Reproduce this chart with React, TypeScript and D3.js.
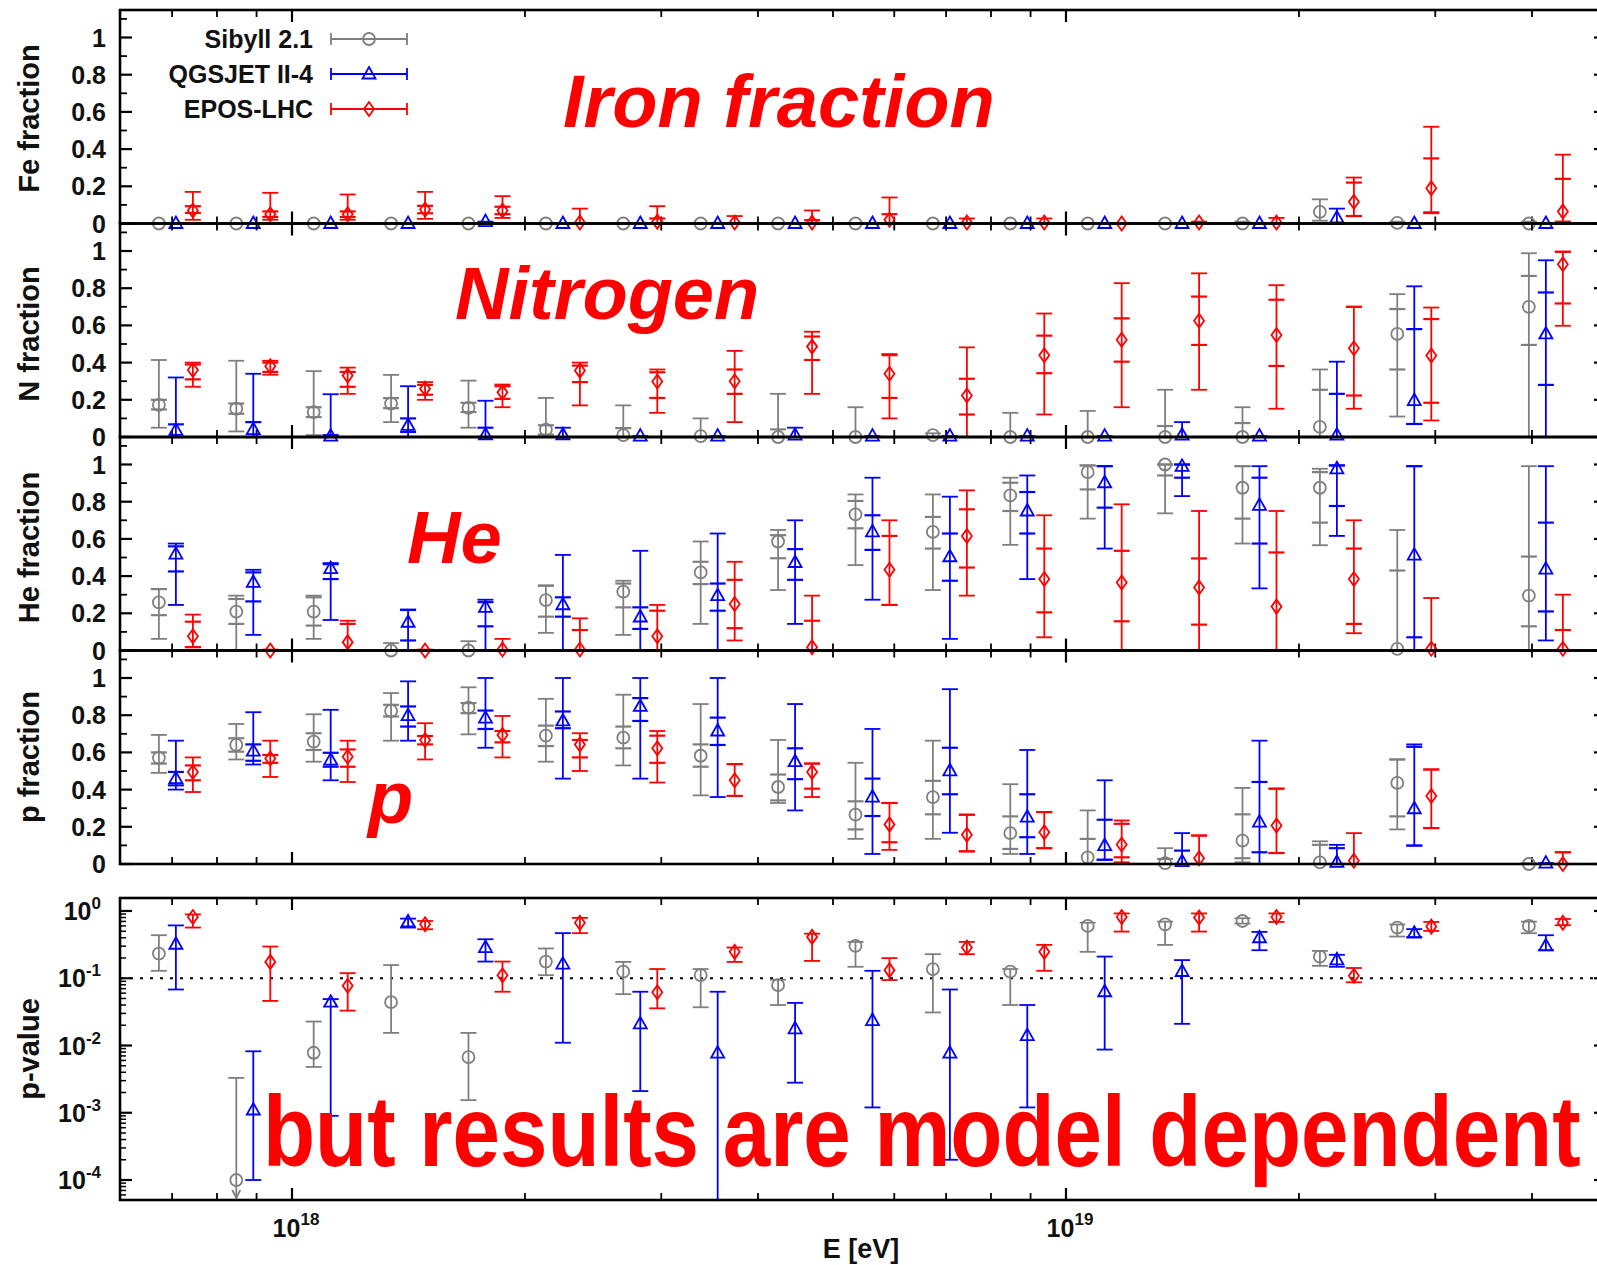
import React from 'react';
import * as d3 from 'd3';

// ---------------- data ----------------
const binLog10E = [17.85, 17.95, 18.05, 18.15, 18.25, 18.35, 18.45, 18.55, 18.65, 18.75, 18.85, 18.95, 19.05, 19.15, 19.25, 19.35, 19.45, 19.62];
const modelNames = ['Sibyll 2.1', 'QGSJET II-4', 'EPOS-LHC'];
const modelColors = ['#7f7f7f', '#0000ff', '#ff0000'];
const fracTicks = [0, 0.2, 0.4, 0.6, 0.8, 1];
const fracTickLabels = ['0', '0.2', '0.4', '0.6', '0.8', '1'];
const fracMinorTicks = [0.1, 0.3, 0.5, 0.7, 0.9, 1.1];
const pvTickExps = [0, -1, -2, -3, -4];
const xTickExps = [18, 19];
const panelTitles = ['Fe fraction', 'N fraction', 'He fraction', 'p fraction'];

// each entry: [value, outerLo, outerHi, innerLo?, innerHi?]
const feSib = [[0,0,0],[0,0,0],[0,0,0],[0,0,0],[0,0,0],[0,0,0],[0,0,0],[0,0,0],[0,0,0],[0,0,0],[0,0,0],[0,0,0],[0,0,0],[0,0,0],[0,0,0.01],[0.063,0.015,0.13],[0.003,0,0.01],[0,0,0.01]];
const feQgs = [[0,0,0],[0,0,0],[0,0,0],[0,0,0],[0.01,0,0.01],[0,0,0],[0,0,0],[0,0,0],[0,0,0],[0,0,0],[0,0,0],[0,0,0],[0,0,0],[0,0,0],[0,0,0],[0.03,0,0.08],[0,0,0],[0,0,0]];
const feEpos = [[0.07,0.02,0.17,0.057,0.093],[0.05,0.02,0.165,0.035,0.065],[0.05,0.02,0.156,0.035,0.065],[0.075,0.025,0.17,0.055,0.095],[0.07,0.03,0.147,0.05,0.09],[0.005,0,0.08],[0.01,0,0.093,0,0.027],[0.005,0,0.04],[0.005,0,0.07,0,0.018],[0.02,0,0.14,0,0.05],[0.005,0,0.027],[0.005,0,0.027],[0,0,0],[0.005,0,0.01],[0.005,0,0.03],[0.117,0.04,0.247,0.04,0.22],[0.19,0.055,0.52,0.06,0.35],[0.065,0,0.37,0.01,0.24]];

const nSib = [[0.173,0.05,0.414,0.148,0.2],[0.152,0.03,0.41,0.125,0.18],[0.134,0.01,0.354,0.107,0.16],[0.18,0.08,0.334,0.155,0.209],[0.157,0.05,0.303,0.134,0.184],[0.04,0,0.21,0.013,0.063],[0.01,0,0.17,0,0.048],[0.005,0,0.1],[0,0,0.232,0,0.041],[0,0,0.16],[0.01,0,0.02],[0,0,0.13],[0,0,0.14],[0,0,0.254,0,0.059],[0,0,0.16,0,0.075],[0.054,0,0.363,0,0.254],[0.554,0.11,0.768,0.363,0.688],[0.7,0,0.988,0.495,0.866]];
const nQgs = [[0.036,0,0.32,0,0.068],[0.04,0,0.34,0,0.08],[0.005,0,0.23,0,0.01],[0.062,0,0.273,0.027,0.1],[0.012,0,0.195,0,0.05],[0.012,0,0.05],[0.005,0,0.005],[0.005,0,0.005],[0.01,0,0.05],[0.005,0,0.005],[0.005,0,0.005],[0.005,0,0.005],[0.005,0,0.005],[0.01,0,0.08],[0.005,0,0.005],[0.01,0,0.405,0,0.232],[0.196,0.07,0.81,0.07,0.58],[0.554,0,0.95,0.28,0.777]];
const nEpos = [[0.36,0.27,0.4,0.31,0.39],[0.38,0.335,0.41,0.35,0.4],[0.33,0.232,0.373,0.27,0.35],[0.26,0.2,0.295,0.227,0.28],[0.24,0.16,0.282,0.205,0.273],[0.357,0.17,0.4,0.295,0.384],[0.298,0.13,0.363,0.21,0.348],[0.3,0.08,0.463,0.232,0.363],[0.486,0.232,0.566,0.414,0.54],[0.34,0.1,0.446,0.21,0.44],[0.223,0,0.482,0.121,0.313],[0.44,0.121,0.664,0.343,0.545],[0.523,0.16,0.827,0.405,0.638],[0.625,0.254,0.88,0.495,0.755],[0.548,0.152,0.816,0.382,0.738],[0.477,0.152,0.7,0.223,0.7],[0.438,0.089,0.696,0.184,0.634],[0.929,0.598,0.996,0.718,0.996]];

const heSib = [[0.259,0.0625,0.33,0.19,0.33],[0.209,0,0.295,0.143,0.277],[0.209,0.0625,0.295,0.134,0.286],[0,0,0.04],[0,0,0.05],[0.271,0.095,0.35,0.182,0.348],[0.316,0.084,0.375,0.232,0.36],[0.42,0.143,0.586,0.357,0.477],[0.586,0.325,0.648,0.496,0.62],[0.732,0.459,0.839,0.657,0.804],[0.6375,0.325,0.839,0.548,0.718],[0.834,0.568,0.929,0.75,0.902],[0.959,0.709,0.995,0.866,0.995],[1.0,0.7375,1.0,0.941,1.0],[0.875,0.575,0.991,0.709,0.991],[0.875,0.566,0.977,0.6875,0.959],[0.009,0,0.648,0,0.43],[0.295,0,0.991,0.13,0.505]];
const heQgs = [[0.518,0.245,0.575,0.425,0.56],[0.366,0.084,0.434,0.264,0.42],[0.44,0.164,0.47,0.384,0.464],[0.152,0,0.22,0.054,0.218],[0.232,0,0.273,0.13,0.26],[0.246,0,0.514,0.182,0.286],[0.18,0,0.536,0.116,0.232],[0.295,0,0.629,0.214,0.36],[0.473,0.143,0.7,0.38,0.545],[0.6375,0.273,0.929,0.541,0.727],[0.504,0.0625,0.827,0.375,0.629],[0.75,0.384,0.941,0.629,0.852],[0.902,0.548,0.991,0.768,0.991],[0.99,0.83,1.0,0.929,1.0],[0.78,0.334,0.991,0.575,0.929],[0.977,0.616,0.995,0.777,0.995],[0.5125,0,0.991,0.071,0.991],[0.4375,0.054,0.991,0.21,0.6875]];
const heEpos = [[0.077,0.018,0.193,0.018,0.155],[0,0,0.005],[0.045,0,0.16,0,0.143],[0,0,0.005],[0.005,0,0.0625],[0.005,0,0.173,0,0.11],[0.077,0,0.245,0,0.214],[0.25,0.054,0.477,0.12,0.38],[0.018,0,0.295,0,0.16],[0.434,0.245,0.7,0.245,0.616],[0.616,0.295,0.861,0.446,0.759],[0.384,0.071,0.727,0.205,0.548],[0.366,0,0.786,0.157,0.536],[0.339,0,0.75,0.139,0.495],[0.236,0,0.75,0,0.527],[0.384,0.093,0.7,0.143,0.548],[0.009,0,0.282],[0.009,0,0.3,0,0.11]];

const pSib = [[0.571,0.49,0.694,0.54,0.6],[0.64,0.562,0.753,0.604,0.676],[0.658,0.55,0.805,0.613,0.703],[0.823,0.663,0.919,0.793,0.856],[0.841,0.697,0.95,0.811,0.865],[0.69,0.55,0.888,0.634,0.744],[0.679,0.53,0.91,0.622,0.739],[0.582,0.369,0.86,0.523,0.643],[0.414,0.328,0.667,0.342,0.481],[0.265,0.135,0.544,0.186,0.337],[0.36,0.135,0.663,0.267,0.447],[0.166,0.054,0.429,0.081,0.256],[0.036,0,0.288,0,0.135],[0.005,0,0.085,0,0.027],[0.126,0.009,0.409,0.031,0.267],[0.009,0,0.122,0,0.103],[0.436,0.186,0.562,0.256,0.562],[0,0,0.005]];
const pQgs = [[0.459,0.4,0.663,0.423,0.495],[0.607,0.535,0.816,0.555,0.643],[0.559,0.45,0.829,0.523,0.598],[0.798,0.663,0.982,0.739,0.847],[0.784,0.625,1.0,0.726,0.825],[0.769,0.459,1.0,0.73,0.82],[0.847,0.459,1.0,0.769,0.892],[0.715,0.36,1.0,0.64,0.787],[0.55,0.288,0.86,0.456,0.622],[0.36,0.054,0.726,0.258,0.459],[0.501,0.168,0.94,0.375,0.625],[0.252,0.054,0.613,0.144,0.375],[0.099,0.023,0.45,0.023,0.238],[0.013,0,0.166,0,0.072],[0.225,0,0.663,0.063,0.441],[0.009,0,0.103,0,0.085],[0.297,0.099,0.643,0.099,0.63],[0.005,0,0.005]];
const pEpos = [[0.495,0.387,0.573,0.45,0.53],[0.567,0.468,0.663,0.544,0.586],[0.577,0.441,0.663,0.523,0.616],[0.667,0.562,0.757,0.643,0.688],[0.694,0.573,0.796,0.654,0.715],[0.643,0.5,0.703,0.573,0.667],[0.622,0.438,0.715,0.544,0.69],[0.45,0.366,0.537,0.366,0.537],[0.495,0.36,0.54,0.405,0.54],[0.213,0.076,0.328,0.117,0.328],[0.157,0.068,0.265,0.068,0.265],[0.171,0.085,0.279,0.085,0.279],[0.105,0.009,0.234,0.036,0.216],[0.031,0,0.153,0,0.153],[0.207,0.059,0.405,0.059,0.405],[0.018,0,0.166],[0.366,0.193,0.508,0.193,0.508],[0,0,0.063,0,0.063]];

// p-value entries: [value, lo, hi, arrow?]
const pvSib = [[0.233,0.129,0.436],[1e-4,1e-6,0.0033,1],[0.0078,0.0048,0.0227],[0.044,0.0154,0.157],[0.0067,0.00154,0.0154],[0.177,0.111,0.277],[0.125,0.058,0.175],[0.111,0.037,0.137],[0.079,0.04,0.095],[0.303,0.148,0.347],[0.137,0.031,0.228],[0.125,0.04,0.137],[0.6,0.247,0.67],[0.634,0.313,0.695],[0.71,0.65,0.78],[0.209,0.153,0.255],[0.567,0.417,0.63],[0.6,0.467,0.695]];
const pvQgs = [[0.32,0.068,0.61],[0.0011,1e-4,0.0082],[0.044,0.0009,0.049],[0.687,0.567,0.77],[0.286,0.177,0.38],[0.162,0.011,0.468],[0.021,0.0021,0.063],[0.0077,1e-6,0.063],[0.0177,0.0028,0.043],[0.0235,0.0012,0.129],[0.0077,0.0002,0.068],[0.014,0.0012,0.04],[0.063,0.0087,0.21],[0.126,0.021,0.186],[0.4,0.261,0.489],[0.188,0.148,0.223],[0.467,0.41,0.537],[0.303,0.261,0.436]];
const pvEpos = [[0.815,0.567,0.89],[0.175,0.046,0.296],[0.0775,0.033,0.119],[0.634,0.535,0.71],[0.111,0.063,0.177],[0.67,0.468,0.79],[0.062,0.0357,0.137],[0.247,0.175,0.286],[0.412,0.181,0.46],[0.132,0.094,0.199],[0.286,0.228,0.347],[0.247,0.129,0.313],[0.815,0.494,0.92],[0.8,0.494,0.92],[0.815,0.687,0.92],[0.109,0.087,0.142],[0.586,0.506,0.687],[0.67,0.614,0.76]];
const pvThreshold = 0.1;

// ---------------- layout ----------------
const W = 1597, H = 1265;
const X0 = 120, X1 = 1606;
const FR_TOP = 10, FR_H = 213.5, FR_UNIT = 186;
const PV_TOP = 898, PV_BOT = 1200;
const SERIES_DX = [-17, 0, 17];
const FONT = "'Liberation Sans', Arial, Helvetica, sans-serif";
const INK = '#111';

const xScale = d3.scaleLog().domain([Math.pow(10, 17.7778), Math.pow(10, 19.6977)]).range([X0, X1]);
const pvScale = d3.scaleLog().domain([Math.pow(10, -4.297), Math.pow(10, 0.193)]).range([PV_BOT, PV_TOP]);

const fracData = [
  [feSib, feQgs, feEpos],
  [nSib, nQgs, nEpos],
  [heSib, heQgs, heEpos],
  [pSib, pQgs, pEpos],
];
const pvData = [pvSib, pvQgs, pvEpos];

const xMajor = xTickExps.map((e) => Math.pow(10, e));
const xMinor: number[] = [];
[17, 18, 19].forEach((e) => {
  for (let k = 2; k <= 9; k++) {
    const v = k * Math.pow(10, e);
    const px = xScale(v);
    if (px > X0 + 1 && px < X1 - 1) xMinor.push(v);
  }
});
const pvMinor: number[] = [];
[-5, -4, -3, -2, -1, 0].forEach((e) => {
  for (let k = 2; k <= 9; k++) {
    const v = k * Math.pow(10, e);
    const py = pvScale(v);
    if (py > PV_TOP + 1 && py < PV_BOT - 1) pvMinor.push(v);
  }
});

function marker(shape: number, x: number, y: number, color: string, key: string) {
  const sw = 1.8;
  if (shape === 0) return <circle key={key} cx={x} cy={y} r={6} fill="none" stroke={color} strokeWidth={sw} />;
  if (shape === 1)
    return <path key={key} d={`M${x},${y - 7}L${x + 6.5},${y + 4.5}L${x - 6.5},${y + 4.5}Z`} fill="none" stroke={color} strokeWidth={sw} strokeLinejoin="miter" />;
  return <path key={key} d={`M${x},${y - 7}L${x + 5},${y}L${x},${y + 7}L${x - 5},${y}Z`} fill="none" stroke={color} strokeWidth={sw} />;
}

function cap(x: number, y: number, color: string, key: string, sw = 1.8) {
  return <line key={key} x1={x - 8} x2={x + 8} y1={y} y2={y} stroke={color} strokeWidth={sw} />;
}

function xTicks(yTop: number, yBot: number, keyp: string) {
  const out: any[] = [];
  xMajor.forEach((v, i) => {
    const x = xScale(v);
    out.push(<line key={`${keyp}M${i}a`} x1={x} x2={x} y1={yBot} y2={yBot - 12} stroke="#000" strokeWidth={2.2} />);
    out.push(<line key={`${keyp}M${i}b`} x1={x} x2={x} y1={yTop} y2={yTop + 12} stroke="#000" strokeWidth={2.2} />);
  });
  xMinor.forEach((v, i) => {
    const x = xScale(v);
    out.push(<line key={`${keyp}m${i}a`} x1={x} x2={x} y1={yBot} y2={yBot - 7} stroke="#000" strokeWidth={1.8} />);
    out.push(<line key={`${keyp}m${i}b`} x1={x} x2={x} y1={yTop} y2={yTop + 7} stroke="#000" strokeWidth={1.8} />);
  });
  return out;
}

export default function App() {
  const elems: any[] = [];

  // fraction panels
  fracData.forEach((panel, pi) => {
    const top = FR_TOP + pi * FR_H;
    const bot = top + FR_H;
    const y = d3.scaleLinear().domain([0, FR_H / FR_UNIT]).range([bot, top]);

    fracTicks.forEach((t, i) => {
      const yy = y(t);
      elems.push(<line key={`f${pi}yt${i}`} x1={X0} x2={X0 + 12} y1={yy} y2={yy} stroke="#000" strokeWidth={2.2} />);
      elems.push(<line key={`f${pi}yr${i}`} x1={X1} x2={X1 - 12} y1={yy} y2={yy} stroke="#000" strokeWidth={2.2} />);
      elems.push(
        <text key={`f${pi}yl${i}`} x={106} y={yy + 9} textAnchor="end" fontFamily={FONT} fontWeight="bold" fontSize={25} fill={INK}>
          {fracTickLabels[i]}
        </text>
      );
    });
    fracMinorTicks.forEach((t, i) => {
      const yy = y(t);
      elems.push(<line key={`f${pi}ym${i}`} x1={X0} x2={X0 + 7} y1={yy} y2={yy} stroke="#000" strokeWidth={1.8} />);
      elems.push(<line key={`f${pi}ymr${i}`} x1={X1} x2={X1 - 7} y1={yy} y2={yy} stroke="#000" strokeWidth={1.8} />);
    });
    elems.push(...xTicks(top, bot, `f${pi}x`));

    const cy = (y(0) + y(1)) / 2 + (pi === 0 ? -12 : pi === 3 ? -14 : -10);
    elems.push(
      <text key={`f${pi}title`} transform={`translate(39,${cy}) rotate(-90)`} textAnchor="middle" fontFamily={FONT} fontWeight="bold" fontSize={29} fill={INK}>
        {panelTitles[pi]}
      </text>
    );

    panel.forEach((series, si) => {
      const color = modelColors[si];
      series.forEach((d: number[], bi: number) => {
        const x = xScale(Math.pow(10, binLog10E[bi])) + SERIES_DX[si];
        const [v, lo, hi, ilo, ihi] = d;
        const k = `f${pi}s${si}b${bi}`;
        if (hi > lo) {
          elems.push(<line key={k + 'bar'} x1={x} x2={x} y1={y(lo)} y2={y(hi)} stroke={color} strokeWidth={1.8} />);
          elems.push(cap(x, y(lo), color, k + 'clo'));
          elems.push(cap(x, y(hi), color, k + 'chi'));
        }
        if (ilo !== undefined && ihi !== undefined) {
          elems.push(cap(x, y(ilo), color, k + 'ilo', 2.2));
          elems.push(cap(x, y(ihi), color, k + 'ihi', 2.2));
        }
        elems.push(marker(si, x, y(v), color, k + 'mk'));
      });
    });

    elems.push(<rect key={`f${pi}frame`} x={X0} y={top} width={X1 - X0} height={FR_H} fill="none" stroke="#000" strokeWidth={2.6} />);
  });

  // p-value panel
  pvTickExps.forEach((e, i) => {
    const yy = pvScale(Math.pow(10, e));
    elems.push(<line key={`pvyt${i}`} x1={X0} x2={X0 + 12} y1={yy} y2={yy} stroke="#000" strokeWidth={2.2} />);
    elems.push(<line key={`pvyr${i}`} x1={X1} x2={X1 - 12} y1={yy} y2={yy} stroke="#000" strokeWidth={2.2} />);
    elems.push(
      <text key={`pvyl${i}`} x={101} y={yy + 9} textAnchor="end" fontFamily={FONT} fontWeight="bold" fontSize={25} fill={INK}>
        <tspan>10</tspan>
        <tspan dy={-11} fontSize={17}>{String(e)}</tspan>
      </text>
    );
  });
  pvMinor.forEach((v, i) => {
    const yy = pvScale(v);
    elems.push(<line key={`pvym${i}`} x1={X0} x2={X0 + 6} y1={yy} y2={yy} stroke="#000" strokeWidth={1.5} />);
    elems.push(<line key={`pvymr${i}`} x1={X1} x2={X1 - 6} y1={yy} y2={yy} stroke="#000" strokeWidth={1.5} />);
  });
  elems.push(...xTicks(PV_TOP, PV_BOT, 'pvx'));

  elems.push(
    <line key="pvthr" x1={X0} x2={X1} y1={pvScale(pvThreshold)} y2={pvScale(pvThreshold)} stroke="#000" strokeWidth={2} strokeDasharray="3,7" />
  );

  const pvElems: any[] = [];
  pvData.forEach((series, si) => {
    const color = modelColors[si];
    series.forEach((d: number[], bi: number) => {
      const x = xScale(Math.pow(10, binLog10E[bi])) + SERIES_DX[si];
      const [v, lo, hi, arrow] = d;
      const k = `pv${si}b${bi}`;
      const yLo = Math.min(pvScale(lo), PV_BOT + 5);
      const yHi = pvScale(hi);
      if (arrow) {
        pvElems.push(<line key={k + 'bar'} x1={x} x2={x} y1={yHi} y2={PV_BOT - 2} stroke={color} strokeWidth={1.8} />);
        pvElems.push(cap(x, yHi, color, k + 'chi'));
        pvElems.push(<path key={k + 'arr'} d={`M${x - 4},${PV_BOT - 10}L${x},${PV_BOT - 2}L${x + 4},${PV_BOT - 10}`} fill="none" stroke={color} strokeWidth={1.8} />);
      } else {
        pvElems.push(<line key={k + 'bar'} x1={x} x2={x} y1={yLo} y2={yHi} stroke={color} strokeWidth={1.8} />);
        if (pvScale(lo) < PV_BOT) pvElems.push(cap(x, yLo, color, k + 'clo'));
        pvElems.push(cap(x, yHi, color, k + 'chi'));
      }
      pvElems.push(marker(si, x, pvScale(v), color, k + 'mk'));
    });
  });
  elems.push(
    <g key="pvdata" clipPath="url(#pvclip)">
      {pvElems}
    </g>
  );
  elems.push(<rect key="pvframe" x={X0} y={PV_TOP} width={X1 - X0} height={PV_BOT - PV_TOP} fill="none" stroke="#000" strokeWidth={2.6} />);
  elems.push(
    <text key="pvtitle" transform={`translate(39,1049) rotate(-90)`} textAnchor="middle" fontFamily={FONT} fontWeight="bold" fontSize={29} fill={INK}>
      p-value
    </text>
  );

  xMajor.forEach((v, i) => {
    elems.push(
      <text key={`xl${i}`} x={xScale(v) + 4} y={1237} textAnchor="middle" fontFamily={FONT} fontWeight="bold" fontSize={25} fill={INK}>
        <tspan>10</tspan>
        <tspan dy={-12} fontSize={17}>{String(xTickExps[i])}</tspan>
      </text>
    );
  });
  elems.push(
    <text key="xtitle" x={861} y={1258} textAnchor="middle" fontFamily={FONT} fontWeight="bold" fontSize={27} fill={INK}>
      E [eV]
    </text>
  );

  modelNames.forEach((name, i) => {
    const ly = 39 + i * 35;
    const c = modelColors[i];
    elems.push(
      <text key={`lg${i}t`} x={313} y={ly + 9} textAnchor="end" fontFamily={FONT} fontWeight="bold" fontSize={25} fill={INK}>
        {name}
      </text>
    );
    elems.push(<line key={`lg${i}l`} x1={331} x2={407} y1={ly} y2={ly} stroke={c} strokeWidth={1.8} />);
    elems.push(<line key={`lg${i}c1`} x1={331} x2={331} y1={ly - 6} y2={ly + 6} stroke={c} strokeWidth={1.8} />);
    elems.push(<line key={`lg${i}c2`} x1={407} x2={407} y1={ly - 6} y2={ly + 6} stroke={c} strokeWidth={1.8} />);
    elems.push(marker(i, 369, ly, c, `lg${i}m`));
  });

  const red = '#ff0000';
  elems.push(
    <text key="a1" x={563} y={127} fontFamily={FONT} fontWeight="bold" fontStyle="italic" fontSize={74} fill={red}>Iron fraction</text>
  );
  elems.push(
    <text key="a2" x={455} y={319} fontFamily={FONT} fontWeight="bold" fontStyle="italic" fontSize={74} fill={red}>Nitrogen</text>
  );
  elems.push(
    <text key="a3" x={407} y={563} fontFamily={FONT} fontWeight="bold" fontStyle="italic" fontSize={74} fill={red}>He</text>
  );
  elems.push(
    <text key="a4" x={368} y={823} fontFamily={FONT} fontWeight="bold" fontStyle="italic" fontSize={74} fill={red}>p</text>
  );
  elems.push(
    <text key="a5" transform="translate(263,1166) scale(0.853,1)" x={0} y={0} fontFamily={FONT} fontWeight="bold" fontSize={100} fill={red}>
      but results are model dependent
    </text>
  );

  return (
    <svg width={W} height={H} viewBox={`0 0 ${W} ${H}`} style={{ position: 'absolute', left: 0, top: 0, display: 'block' }}>
      <defs>
        <clipPath id="pvclip">
          <rect x={X0} y={PV_TOP} width={X1 - X0} height={PV_BOT - PV_TOP} />
        </clipPath>
      </defs>
      <rect x={0} y={0} width={W} height={H} fill="#fff" />
      {elems}
    </svg>
  );
}
